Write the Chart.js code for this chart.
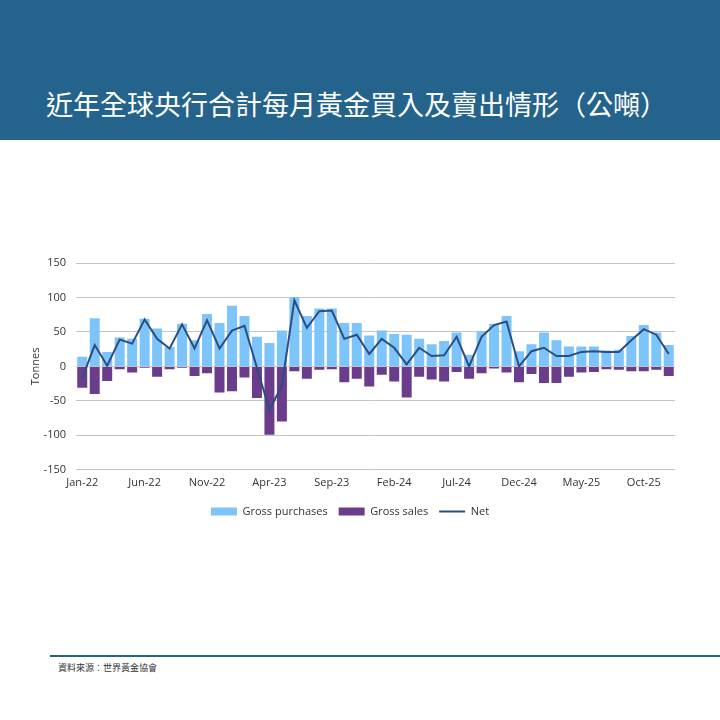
<!DOCTYPE html>
<html>
<head>
<meta charset="utf-8">
<script src="https://cdn.jsdelivr.net/npm/chart.js@4"></script>
<style>
  html, body { margin: 0; padding: 0; background: #fff; }
  body { width: 720px; height: 720px; position: relative; overflow: hidden; }
  #bandeau { position: absolute; left: 0; top: 0; width: 720px; height: 140px; background: #24638c; }
  #titre { position: absolute; left: 46px; top: 85px; color: #fff; font-family: "Noto Sans CJK TC", sans-serif; font-size: 27px; line-height: 37px; white-space: nowrap; }
  #boite { position: absolute; left: 0; top: 240px; width: 720px; height: 300px; }
  #ligne { position: absolute; left: 50px; top: 655px; width: 670px; height: 2px; background: #24638c; }
  #source { position: absolute; left: 58px; top: 661px; font-family: "Noto Sans CJK TC", sans-serif; font-size: 9px; color: #333; }
</style>
</head>
<body>
<div id="bandeau"></div>
<div id="titre">近年全球央行合計每月黃金買入及賣出情形（公噸）</div>
<div id="boite"><canvas id="graphOr"></canvas></div>
<div id="ligne"></div>
<div id="source">資料來源：世界黃金協會</div>
<script>
// mois et annees pour les etiquettes
var mois = ['Jan', 'Feb', 'Mar', 'Apr', 'May', 'Jun', 'Jul', 'Aug', 'Sep', 'Oct', 'Nov', 'Dec'];
var annees = ['22', '23', '24', '25'];

// achats bruts (tonnes)
var achats = [14, 70, 21, 42, 40, 69, 55, 28, 62, 38, 76, 63,
              88, 73, 43, 34, 52, 100, 73, 84, 84, 63, 63, 45,
              52, 47, 46, 40, 32, 37, 49, 17, 51, 62, 73, 22,
              32, 49, 38, 29, 29, 29, 23, 24, 44, 60, 49, 31];
// ventes brutes (tonnes)
var ventes = [-31, -40, -21, -4, -9, -2, -15, -4, -2, -14, -10, -38,
              -36, -16, -46, -99, -80, -7, -18, -5, -4, -23, -18, -29,
              -12, -22, -45, -15, -19, -22, -8, -18, -10, -3, -9, -23,
              -11, -24, -24, -15, -9, -8, -4, -5, -7, -7, -5, -14];
// net (tonnes)
var net = [-17, 31, 1, 39, 33, 68, 40, 26, 61, 26, 67, 26,
           52, 59, -2, -63, -28, 96, 56, 80, 81, 40, 46, 18,
           40, 27, 3, 27, 15, 16, 43, 0, 43, 60, 65, 0,
           22, 27, 15, 15, 21, 22, 21, 21, 38, 54, 46, 18];
var ticksY = [-150, -100, -50, 0, 50, 100, 150];

var etiquettes = [];
for (var a = 0; a < annees.length; a++) {
    for (var m = 0; m < mois.length; m++) {
        etiquettes.push(mois[m] + '-' + annees[a]);
    }
}

var police = "'Open Sans', sans-serif";
var ctx = document.getElementById('graphOr').getContext('2d');
var chart = new Chart(ctx, {
    type: 'bar',
    data: {
        labels: etiquettes,
        datasets: [{
            type: 'line',
            label: 'Net',
            data: net,
            borderColor: '#2b4d7f',
            backgroundColor: '#2b4d7f',
            borderWidth: 2,
            pointRadius: 0,
            tension: 0,
            stack: 'net',
            order: 0
        }, {
            label: 'Gross purchases',
            data: achats,
            backgroundColor: '#7dc4fb',
            stack: 'barres',
            order: 1
        }, {
            label: 'Gross sales',
            data: ventes,
            backgroundColor: '#6b3b8c',
            stack: 'barres',
            order: 1
        }]
    },
    options: {
        responsive: true,
        maintainAspectRatio: false,
        animation: false,
        categoryPercentage: 1,
        barPercentage: 0.8,
        layout: { padding: { left: 25, right: 45, top: 23, bottom: 13 } },
        plugins: {
            legend: {
                position: 'bottom',
                labels: {
                    font: { family: police, size: 11 },
                    color: '#333',
                    usePointStyle: true,
                    pointStyleWidth: 26,
                    boxHeight: 8,
                    padding: 11,
                    sort: function (a, b) { return (a.datasetIndex || 3) - (b.datasetIndex || 3); },
                    generateLabels: function (c) {
                        var items = Chart.defaults.plugins.legend.labels.generateLabels(c);
                        items.forEach(function (it) {
                            it.pointStyle = it.datasetIndex === 0 ? 'line' : 'rect';
                            if (it.datasetIndex !== 0) { it.lineWidth = 0; }
                        });
                        return items;
                    }
                }
            },
            tooltip: { enabled: false }
        },
        scales: {
            x: {
                stacked: true,
                offset: true,
                grid: { display: false, drawTicks: false },
                border: { display: false },
                ticks: {
                    autoSkip: false,
                    maxRotation: 0,
                    padding: 6,
                    color: '#333',
                    font: { family: police, size: 11 },
                    callback: function (v, i) { return i % 5 === 0 ? this.getLabelForValue(v) : ''; }
                }
            },
            y: {
                stacked: true,
                min: ticksY[0],
                max: ticksY[ticksY.length - 1],
                afterBuildTicks: function (s) { s.ticks = ticksY.map(function (v) { return { value: v }; }); },
                afterFit: function (s) { s.width = 51; },
                grid: { color: '#c4c4c4', lineWidth: 1, drawTicks: false },
                border: { display: false },
                title: {
                    display: true,
                    text: 'Tonnes',
                    color: '#333',
                    font: { family: police, size: 11 },
                    padding: { top: 4, bottom: 0 }
                },
                ticks: {
                    padding: 10,
                    color: '#333',
                    font: { family: police, size: 11 }
                }
            }
        }
    }
});
</script>
</body>
</html>
